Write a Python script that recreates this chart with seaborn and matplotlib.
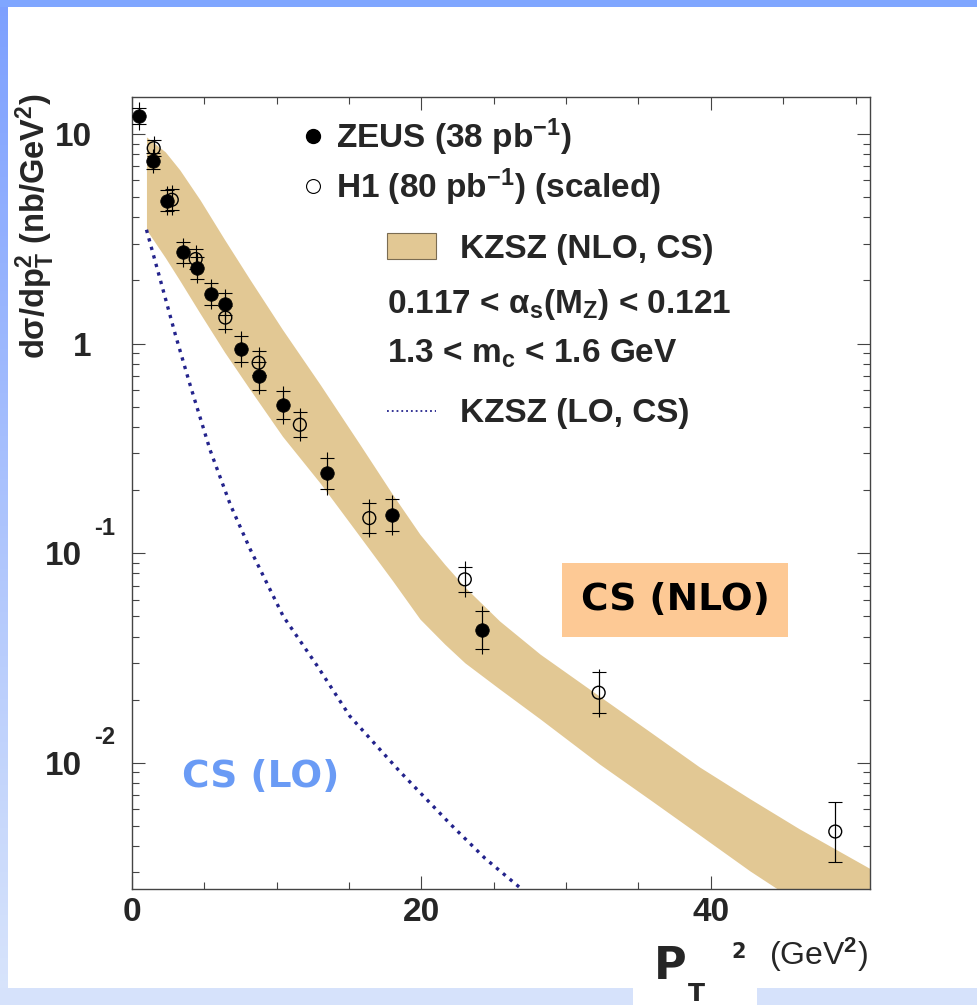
import seaborn as sns
import numpy as np
import matplotlib
matplotlib.use("Agg")
import matplotlib.pyplot as plt
import matplotlib.transforms as mtransforms
from matplotlib.lines import Line2D
from matplotlib.patches import Patch, Rectangle
from matplotlib.colors import LinearSegmentedColormap
from matplotlib.ticker import MultipleLocator, LogLocator, NullFormatter

# ZEUS data (filled circles)
zeus_pt2 = [0.5, 1.45, 2.45, 3.5, 4.5, 5.45, 6.45, 7.55, 8.8, 10.45, 13.5, 18.0, 24.2]
zeus_xsec = [12.2, 7.45, 4.8, 2.72, 2.29, 1.72, 1.55, 0.94, 0.70, 0.51, 0.24, 0.152, 0.043]
zeus_stat = [0.09, 0.09, 0.12, 0.12, 0.13, 0.13, 0.13, 0.15, 0.17, 0.17, 0.19, 0.19, 0.23]
zeus_tot = [0.17, 0.14, 0.17, 0.17, 0.18, 0.18, 0.18, 0.22, 0.22, 0.23, 0.26, 0.25, 0.30]

# H1 data (open circles, scaled)
h1_pt2 = [1.5, 2.75, 4.4, 6.45, 8.75, 11.6, 16.4, 23.0, 32.25, 48.6]
h1_xsec = [8.55, 4.85, 2.53, 1.33, 0.81, 0.41, 0.147, 0.075, 0.0216, 0.0047]
h1_stat = [0.09, 0.12, 0.12, 0.13, 0.14, 0.15, 0.18, 0.15, 0.25, 0.39]
h1_tot = [0.14, 0.18, 0.17, 0.19, 0.19, 0.20, 0.23, 0.22, 0.30, 0.39]

# KZSZ NLO band (colour singlet)
band_pt2 = [1.0, 2.3, 3.3, 4.7, 6.4, 8.15, 10.4, 13.0, 15.75, 18.0, 19.9, 21.6, 23.0,
            25.4, 28.2, 32.3, 35.8, 39.2, 42.7, 46.1, 51.0]
band_hi = [9.68, 8.21, 6.74, 4.85, 3.13, 2.02, 1.166, 0.638, 0.330, 0.191, 0.123, 0.0886,
           0.0689, 0.0475, 0.0330, 0.0208, 0.01405, 0.00957, 0.00674, 0.00485, 0.00313]
band_lo = [3.49, 2.57, 2.0, 1.394, 0.909, 0.604, 0.361, 0.216, 0.120, 0.0740, 0.0485,
           0.0369, 0.0300, 0.0225, 0.0162, 0.00987, 0.00667, 0.00454, 0.00305, 0.00214,
           0.00137]

# KZSZ LO curve
lo_pt2 = [1.0, 1.95, 3.0, 4.0, 5.4, 6.8, 8.15, 10.45, 12.8, 15.05, 18.5, 22.0, 24.4, 26.8, 28.2]
lo_xsec = [3.49, 2.02, 1.10, 0.64, 0.31, 0.17, 0.105, 0.050, 0.029, 0.0167, 0.0091,
           0.0051, 0.0035, 0.00254, 0.00213]

xtick_vals = [0, 20, 40]
xtick_labels = ["0", "20", "40"]
ytick_vals = [0.01, 0.1, 1, 10]
ytick_labels = ["10", "10", "1", "10"]
ytick_exps = ["-2", "-1", "", ""]

band_color = "#E2C894"
lo_color = "#23238C"
axis_color = "#444444"

sns.set_theme(style="ticks")
plt.rcParams["font.family"] = ["Liberation Sans", "DejaVu Sans"]
plt.rcParams["font.weight"] = "bold"
plt.rcParams["mathtext.fontset"] = "custom"
plt.rcParams["mathtext.rm"] = "Liberation Sans"
plt.rcParams["mathtext.bf"] = "Liberation Sans:bold"
plt.rcParams["mathtext.it"] = "Liberation Sans:italic"

fig = plt.figure(figsize=(9.78, 10.05), dpi=100)
fig.patch.set_facecolor("white")

# slide background (blue frame)
bg = fig.add_axes([0, 0, 1, 1], zorder=-5)
grad = np.linspace(0, 1, 256).reshape(-1, 1)
strip = LinearSegmentedColormap.from_list("strip", ["#7DA0FF", "#D9E5FB"])
bg.imshow(grad, cmap=strip, extent=(0, 8, 1005, 0), aspect="auto")
bg.add_patch(Rectangle((0, 0), 978, 7, color="#7FA6FF", lw=0))
bg.add_patch(Rectangle((0, 988), 978, 17, color="#D6E2FB", lw=0))
bg.add_patch(Rectangle((633, 975), 124, 30, color="white", lw=0))
bg.set_xlim(0, 978)
bg.set_ylim(1005, 0)
bg.axis("off")

ax = fig.add_axes([132 / 978, 116 / 1005, 738 / 978, 792 / 1005])
ax.set_facecolor("white")

ax.fill_between(band_pt2, band_lo, band_hi, color=band_color, lw=0, zorder=1)
sns.lineplot(x=lo_pt2, y=lo_xsec, ax=ax, color=lo_color, lw=2.4, linestyle=":", zorder=2)


def draw_errors(x, y, stat, tot):
    y = np.array(y)
    stat = np.array(stat)
    tot = np.array(tot)
    yerr_tot = [y - y / (1 + tot), y * tot]
    yerr_stat = [y - y / (1 + stat), y * stat]
    ax.errorbar(x, y, yerr=yerr_tot, fmt="none", ecolor="black", elinewidth=0.8, zorder=3)
    ax.errorbar(x, y, yerr=yerr_stat, fmt="none", ecolor="black", elinewidth=0.8,
                capsize=4.7, capthick=0.8, zorder=3)


draw_errors(zeus_pt2, zeus_xsec, zeus_stat, zeus_tot)
draw_errors(h1_pt2, h1_xsec, h1_stat, h1_tot)

sns.scatterplot(x=zeus_pt2, y=zeus_xsec, ax=ax, s=95, color="black", edgecolor="black",
                linewidth=0.5, zorder=4, legend=False)
sns.scatterplot(x=h1_pt2, y=h1_xsec, ax=ax, s=85, facecolor="none", edgecolor="black",
                linewidth=1.0, zorder=4, legend=False)

ax.set_yscale("log")
ax.set_xlim(0, 51)
ax.set_ylim(0.0025, 15)
ax.set_xticks(xtick_vals, xtick_labels)
ax.xaxis.set_minor_locator(MultipleLocator(5))
ax.set_yticks(ytick_vals, ytick_labels)
ax.yaxis.set_minor_locator(LogLocator(base=10, subs=np.arange(2, 10)))
ax.yaxis.set_minor_formatter(NullFormatter())
ax.tick_params(which="both", direction="in", top=True, right=True,
               color=axis_color, width=0.8)
ax.tick_params(which="major", length=9.5, labelsize=24)
ax.tick_params(which="minor", length=5)
ax.tick_params(axis="x", pad=6)
ax.tick_params(axis="y", pad=29)
for sp in ax.spines.values():
    sp.set_color(axis_color)
    sp.set_linewidth(1.0)

# ROOT style 10^n labels: base shifted left, exponent raised to the right
shift = mtransforms.ScaledTranslation(-10 / 100, 0, fig.dpi_scale_trans)
raise_exp = mtransforms.ScaledTranslation(0, 25 / 100, fig.dpi_scale_trans)
for lbl, val, exp in zip(ax.get_yticklabels(), ytick_vals, ytick_exps):
    if exp:
        lbl.set_transform(lbl.get_transform() + shift)
        ax.text((94 - 132) / 738, val, exp, transform=ax.get_yaxis_transform() + raise_exp,
                fontsize=17, fontweight="bold", ha="left", va="center")

ax.set_ylabel(r"dσ/dp$_{\mathbf{T}}^{\mathbf{2}}$ (nb/GeV$^{\mathbf{2}}$)",
              fontsize=23.5, fontweight="bold", loc="top")
ax.yaxis.set_label_coords(-0.102, 1.005)
ax.set_xlabel("")

# legend, ROOT style
fs = 24
leg_zeus = ax.legend(handles=[Line2D([], [], marker="o", ls="none", color="black", ms=10)],
                     labels=[r"ZEUS (38 pb$^{\mathbf{-1}}$)"],
                     loc="center left", bbox_to_anchor=(0.2276, 0.9495), frameon=False,
                     fontsize=fs, handlelength=0.8, handletextpad=0.28,
                     borderpad=0, borderaxespad=0)
ax.add_artist(leg_zeus)
leg_h1 = ax.legend(handles=[Line2D([], [], marker="o", ls="none", mfc="none", mec="black",
                                   mew=0.8, ms=10)],
                   labels=[r"H1 (80 pb$^{\mathbf{-1}}$) (scaled)"],
                   loc="center left", bbox_to_anchor=(0.2276, 0.8865), frameon=False,
                   fontsize=fs, handlelength=0.8, handletextpad=0.28,
                   borderpad=0, borderaxespad=0)
ax.add_artist(leg_h1)
leg_nlo = ax.legend(handles=[Patch(facecolor=band_color, edgecolor="#7a6c52", lw=0.8)],
                    labels=["KZSZ (NLO, CS)"],
                    loc="center left", bbox_to_anchor=(0.3455, 0.8083), frameon=False,
                    fontsize=fs, handlelength=1.48, handleheight=0.85, handletextpad=0.72,
                    borderpad=0, borderaxespad=0)
ax.add_artist(leg_nlo)
leg_lo = ax.legend(handles=[Line2D([], [], color=lo_color, lw=1.3, ls=":")],
                   labels=["KZSZ (LO, CS)"],
                   loc="center left", bbox_to_anchor=(0.3455, 0.5998), frameon=False,
                   fontsize=fs, handlelength=1.48, handletextpad=0.72,
                   borderpad=0, borderaxespad=0)

ax.text(0.3455, (889 - 313) / 792, r"0.117 < α$_{\mathbf{s}}$(M$_{\mathbf{Z}}$) < 0.121",
        transform=ax.transAxes, fontsize=fs, ha="left", va="baseline")
ax.text(0.3455, (889 - 363) / 792, r"1.3 < m$_{\mathbf{c}}$ < 1.6 GeV",
        transform=ax.transAxes, fontsize=fs, ha="left", va="baseline")

# slide annotations
ax.text((675 - 132) / 738, (889 - 600) / 792, "CS (NLO)", transform=ax.transAxes,
        family="DejaVu Sans", fontsize=27, weight="bold", color="black",
        ha="center", va="center",
        bbox=dict(boxstyle="square,pad=0.5", fc="#FDC995", ec="none"))
ax.text((261 - 132) / 738, (889 - 777) / 792, "CS (LO)", transform=ax.transAxes,
        family="DejaVu Sans", fontsize=27, weight="bold", color="#6A9BF5",
        ha="center", va="center")

fig.text(868 / 978, 1 - 955 / 1005, r"(GeV$^{2}$)", fontsize=23, weight="normal",
         ha="right", va="center")
fig.text(670 / 978, 1 - 966 / 1005, "P", family="DejaVu Sans", fontsize=32, weight="bold",
         ha="center", va="center")
fig.text(696 / 978, 1 - 994 / 1005, "T", family="DejaVu Sans", fontsize=18, weight="bold",
         ha="center", va="center")
fig.text(739 / 978, 1 - 952 / 1005, "2", family="DejaVu Sans", fontsize=15, weight="bold",
         ha="center", va="center")

fig.savefig("out.png", dpi=100)
